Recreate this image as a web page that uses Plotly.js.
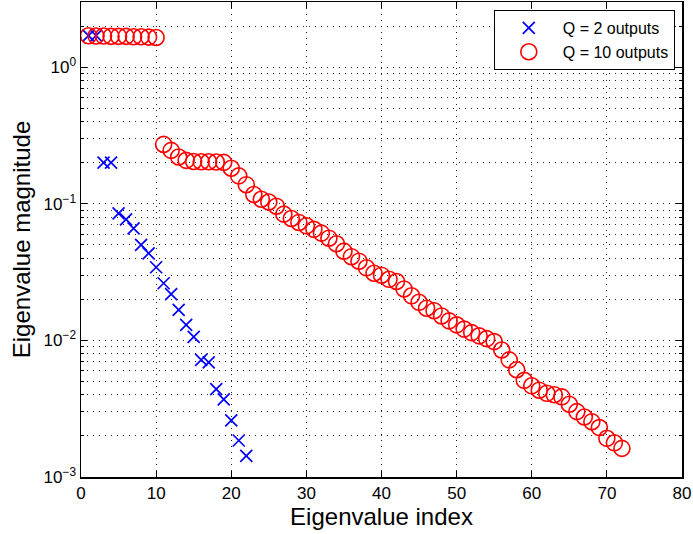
<!DOCTYPE html>
<html><head><meta charset="utf-8">
<script src="https://cdn.plot.ly/plotly-3.0.1.min.js"></script>
<style>html,body{margin:0;padding:0;background:#fff}</style>
</head><body><div id="chart" style="width:693px;height:534px"></div>
<script>
const q2Index = [1,2,3,4,5,6,7,8,9,10,11,12,13,14,15,16,17,18,19,20,21,22];
const q2Values = [1.70,1.70,0.200,0.200,0.085,0.077,0.066,0.050,0.0434,0.0343,0.0262,0.0218,0.0167,0.0130,0.0106,0.0072,0.0069,0.0044,0.0037,0.0026,0.00185,0.00143];
const q10Index = [1,2,3,4,5,6,7,8,9,10,11,12,13,14,15,16,17,18,19,20,21,22,23,24,25,26,27,28,29,30,31,32,33,34,35,36,37,38,39,40,41,42,43,44,45,46,47,48,49,50,51,52,53,54,55,56,57,58,59,60,61,62,63,64,65,66,67,68,69,70,71,72];
const q10Values = [1.70,1.69,1.69,1.68,1.68,1.68,1.67,1.67,1.66,1.65,
  0.272,0.246,0.220,0.208,0.204,0.203,0.203,0.202,0.201,0.182,
  0.160,0.138,0.117,0.108,0.103,0.096,0.084,0.078,0.073,0.069,
  0.065,0.061,0.056,0.051,0.045,0.041,0.038,0.034,0.031,0.030,
  0.028,0.027,0.0238,0.0212,0.0190,0.0172,0.0165,0.0151,0.0139,0.0130,
  0.0121,0.0114,0.0108,0.0103,0.0098,0.0085,0.0072,0.0061,0.0051,0.00465,
  0.00432,0.0041,0.0040,0.00386,0.00341,0.00301,0.00275,0.00254,0.0023,0.00192,
  0.00178,0.00162];
const q2Name = 'Q = 2 outputs';
const q10Name = 'Q = 10 outputs';
const xTickVals = [0,10,20,30,40,50,60,70,80];
const yTickVals = [0.001,0.01,0.1,1];
const yTickText = ['10<sup>−3</sup>','10<sup>−2</sup>','10<sup>−1</sup>','10<sup>0</sup>'];

const yMinor = [];
for (let d = -3; d <= 0; d++) for (let m = 2; m <= 9; m++) { const v = m * Math.pow(10, d); if (v <= 3) yMinor.push(v); }

const font = 'Liberation Sans, Arial, Helvetica, sans-serif';
const gridDash = '1px,5px';
const gridColor = '#222';
const traces = [
  {x: q2Index, y: q2Values, name: q2Name, mode: 'markers', type: 'scatter',
   marker: {symbol: 'x-thin-open', size: 12, color: '#0000ff', line: {color: '#0000ff', width: 1.7}}},
  {x: q10Index, y: q10Values, name: q10Name, mode: 'markers', type: 'scatter',
   marker: {symbol: 'circle-open', size: 16, color: '#ff0000', line: {color: '#ff0000', width: 1.6}}}
];
const layout = {
  width: 693, height: 534,
  margin: {l: 81, r: 11, t: 2, b: 57},
  paper_bgcolor: '#fff', plot_bgcolor: '#fff',
  font: {family: font, color: '#000', size: 16},
  showlegend: true,
  legend: {x: 0.988, y: 0.983, xanchor: 'right', yanchor: 'top', bgcolor: '#fff',
    bordercolor: '#000', borderwidth: 1, font: {family: font, size: 16, color: '#000'},
    tracegroupgap: 0, itemwidth: 58},
  xaxis: {range: [0, 80], tickmode: 'array', tickvals: xTickVals, ticks: 'inside', ticklen: 6,
    tickcolor: '#000', showline: true, linecolor: '#000', linewidth: 1.5, mirror: 'ticks',
    showgrid: true, gridcolor: gridColor, gridwidth: 1, griddash: gridDash, zeroline: false,
    tickfont: {family: font, size: 17},
    title: {text: 'Eigenvalue index', font: {family: font, size: 24}, standoff: 2}},
  yaxis: {type: 'log', range: [-3, Math.log10(3)], tickmode: 'array', tickvals: yTickVals, ticktext: yTickText,
    ticks: 'inside', ticklen: 6, tickcolor: '#000', showline: true, linecolor: '#000', linewidth: 1.5, mirror: 'ticks',
    showgrid: true, gridcolor: gridColor, gridwidth: 1, griddash: gridDash, zeroline: false,
    tickfont: {family: font, size: 17},
    minor: {tickmode: 'array', tickvals: yMinor, ticks: 'inside', ticklen: 3, tickcolor: '#000',
      showgrid: true, gridcolor: gridColor, gridwidth: 1, griddash: gridDash},
    title: {text: 'Eigenvalue magnitude', font: {family: font, size: 24}, standoff: 6}}
};
Plotly.newPlot('chart', traces, layout, {displayModeBar: false, staticPlot: true});
</script></body></html>
